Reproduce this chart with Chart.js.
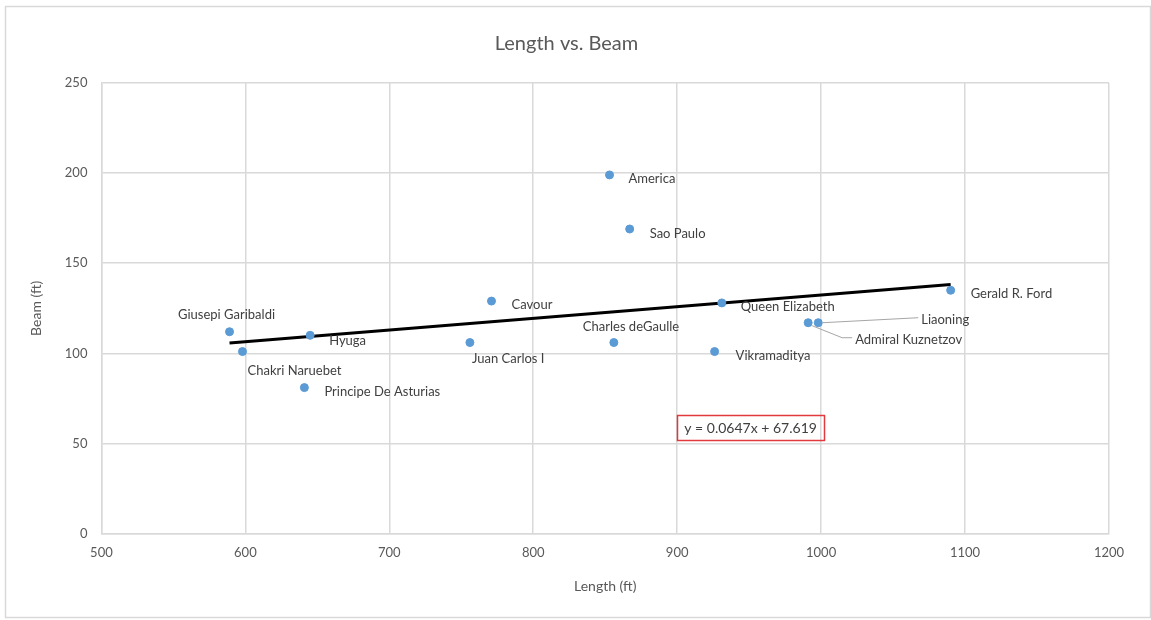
<!DOCTYPE html>
<html>
<head>
<meta charset="utf-8">
<script src="https://cdn.jsdelivr.net/npm/chart.js@4/dist/chart.umd.min.js"></script>
<style>
  html, body { margin: 0; padding: 0; background: #fff; }
  #wrap { width: 1151px; height: 620px; position: relative; }
</style>
</head>
<body>
<div id="wrap"><canvas id="c"></canvas></div>
<script>
// ship names, length (ft), beam (ft)
var ships = ['Giusepi Garibaldi', 'Chakri Naruebet', 'Hyuga', 'Principe De Asturias', 'Juan Carlos I',
  'Cavour', 'America', 'Sao Paulo', 'Charles deGaulle', 'Queen Elizabeth', 'Vikramaditya',
  'Liaoning', 'Admiral Kuznetzov', 'Gerald R. Ford'];
var lengths = [589, 598, 645, 641, 756, 771, 853, 867, 856, 931, 926, 998, 991, 1090];
var beams = [112, 101, 110, 81, 106, 129, 199, 169, 106, 128, 101, 117, 117, 135];

// trendline as excel reported it
var slope = 0.0647;
var intercept = 67.619;

var xTicks = [500, 600, 700, 800, 900, 1000, 1100, 1200];
var yTicks = [0, 50, 100, 150, 200, 250];

// label placement (px from point): dx, dy, align, leader line
var labelPos = [
  [-3, -17, 'center'], [5, 19, 'left'], [19, 5, 'left'], [20, 4, 'left'], [2, 16, 'left'],
  [20, 4, 'left'], [19, 4, 'left'], [20, 5, 'left'], [-31, -16, 'left'], [19, 4, 'left'],
  [21, 4, 'left'], [103, -3, 'left', 'straight'], [47, 17, 'left', 'bent'], [20, 4, 'left']
];

var FONT = 'Lato, "Open Sans", sans-serif';
var GREY = '#595959';

var points = lengths.map(function(l, i) { return {x: l, y: beams[i]}; });
var xMin = Math.min.apply(null, lengths), xMax = Math.max.apply(null, lengths);
var trend = [{x: xMin, y: slope * xMin + intercept}, {x: xMax, y: slope * xMax + intercept}];

var decor = {
  id: 'decor',
  beforeDraw: function(chart) {
    var ctx = chart.ctx;
    ctx.save();
    ctx.fillStyle = '#fff';
    ctx.fillRect(0, 0, chart.width, chart.height);
    ctx.strokeStyle = '#d9d9d9';
    ctx.lineWidth = 1.5;
    ctx.strokeRect(5.5, 6.5, chart.width - 6, chart.height - 9);
    ctx.restore();
  },
  afterDatasetsDraw: function(chart) {
    var ctx = chart.ctx;
    var meta = chart.getDatasetMeta(0);
    ctx.save();
    ctx.font = '13px ' + FONT;
    ctx.fillStyle = '#404040';
    ctx.textBaseline = 'middle';
    meta.data.forEach(function(pt, i) {
      var p = labelPos[i];
      var lx = pt.x + p[0], ly = pt.y + p[1];
      if (p[3] === 'straight') {
        ctx.strokeStyle = '#a6a6a6';
        ctx.lineWidth = 1;
        ctx.beginPath();
        ctx.moveTo(pt.x + 4, pt.y);
        ctx.lineTo(lx - 3, ly - 2);
        ctx.stroke();
      } else if (p[3] === 'bent') {
        ctx.strokeStyle = '#a6a6a6';
        ctx.lineWidth = 1;
        ctx.beginPath();
        ctx.moveTo(pt.x + 4, pt.y + 3);
        ctx.lineTo(lx - 13, ly - 2);
        ctx.lineTo(lx - 3, ly - 2);
        ctx.stroke();
      }
      ctx.textAlign = p[2];
      ctx.fillText(ships[i], lx, ly);
    });

    // equation box
    var xs = chart.scales.x, ys = chart.scales.y;
    var cx = xs.getPixelForValue(951), cy = ys.getPixelForValue(59);
    ctx.font = '14px ' + FONT;
    var txt = 'y = ' + slope + 'x + ' + intercept;
    var w = ctx.measureText(txt).width + 14;
    ctx.strokeStyle = '#e0393e';
    ctx.lineWidth = 1.5;
    ctx.strokeRect(Math.round(cx - w / 2) + 0.5, Math.round(cy - 12) + 0.5, Math.round(w), 25);
    ctx.fillStyle = '#404040';
    ctx.textAlign = 'center';
    ctx.fillText(txt, cx, cy + 1);
    ctx.restore();
  }
};

new Chart(document.getElementById('c'), {
  type: 'scatter',
  data: {
    datasets: [{
      label: 'Beam',
      data: points,
      backgroundColor: '#5b9bd5',
      borderColor: '#5b9bd5',
      pointRadius: 4,
      order: 1
    }, {
      label: 'Linear (Beam)',
      type: 'line',
      data: trend,
      borderColor: '#000',
      borderWidth: 3,
      pointRadius: 0,
      fill: false,
      order: 2
    }]
  },
  options: {
    responsive: true,
    maintainAspectRatio: false,
    animation: false,
    layout: {padding: {left: 24, right: 42, top: 20, bottom: 21}},
    plugins: {
      legend: {display: false},
      tooltip: {enabled: false},
      title: {
        display: true,
        text: 'Length vs. Beam',
        color: GREY,
        font: {family: FONT, size: 20, weight: 'normal'},
        padding: {top: 12, bottom: 27}
      }
    },
    scales: {
      x: {
        type: 'linear',
        min: 500, max: 1200,
        afterBuildTicks: function(axis) { axis.ticks = xTicks.map(function(v) { return {value: v}; }); },
        grid: {color: '#d9d9d9', lineWidth: 1.5, drawTicks: false},
        border: {color: '#d9d9d9', width: 1.5},
        ticks: {color: GREY, font: {family: FONT, size: 13}, padding: 11,
          callback: function(v) { return String(v); }},
        title: {display: true, text: 'Length (ft)', color: GREY, font: {family: FONT, size: 14}, padding: {top: 7}}
      },
      y: {
        min: 0, max: 250,
        afterBuildTicks: function(axis) { axis.ticks = yTicks.map(function(v) { return {value: v}; }); },
        grid: {color: '#d9d9d9', lineWidth: 1.5, drawTicks: false},
        border: {color: '#d9d9d9', width: 1.5},
        ticks: {color: GREY, font: {family: FONT, size: 13}, padding: 14,
          callback: function(v) { return String(v); }},
        title: {display: true, text: 'Beam (ft)', color: GREY, font: {family: FONT, size: 14}, padding: {bottom: 6}}
      }
    }
  },
  plugins: [decor]
});
</script>
</body>
</html>
